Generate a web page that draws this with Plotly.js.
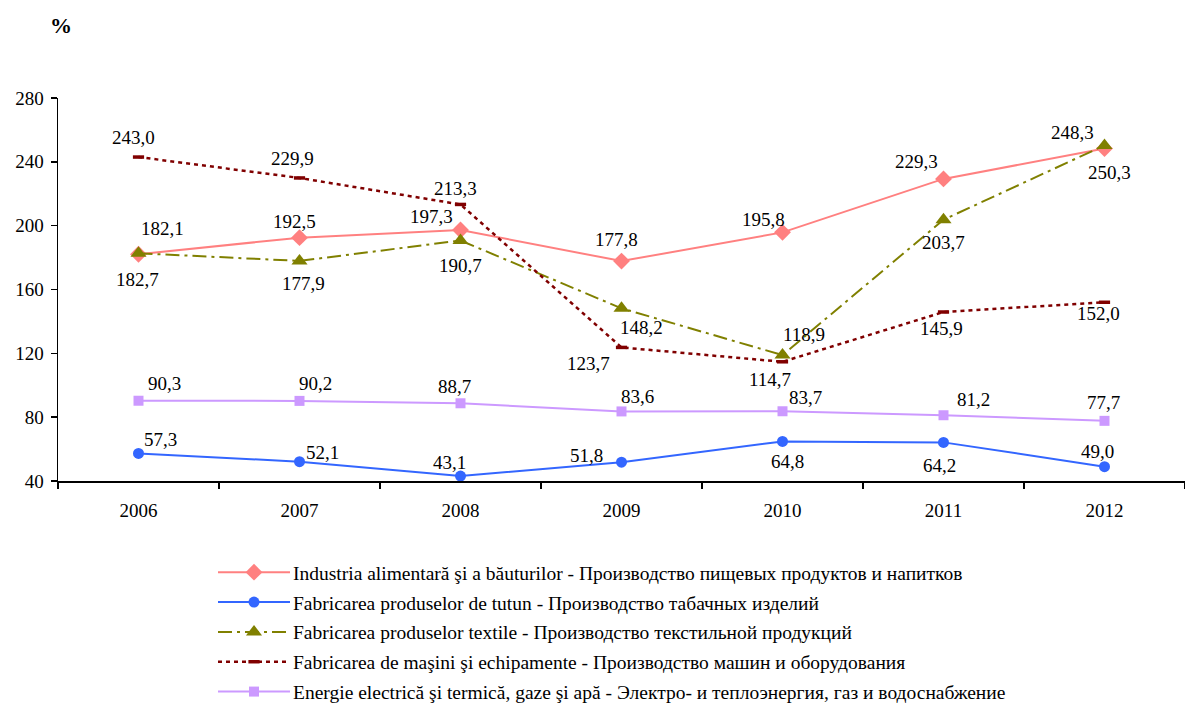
<!DOCTYPE html>
<html>
<head>
<meta charset="utf-8">
<script src="https://cdn.plot.ly/plotly-3.0.1.min.js"></script>
<style>html,body{margin:0;padding:0;background:#fff;}#chart{width:1185px;height:707px;}</style>
</head>
<body>
<div id="chart"></div>
<script>
// ---- data ----
const years = ['2006', '2007', '2008', '2009', '2010', '2011', '2012'];

const foodName = 'Industria alimentară şi a băuturilor - Производство пищевых продуктов и напитков';
const foodVals = [182.1, 192.5, 197.3, 177.8, 195.8, 229.3, 248.3];

const tobaccoName = 'Fabricarea produselor de tutun - Производство табачных изделий';
const tobaccoVals = [57.3, 52.1, 43.1, 51.8, 64.8, 64.2, 49.0];

const textileName = 'Fabricarea produselor textile - Производство текстильной продукций';
const textileVals = [182.7, 177.9, 190.7, 148.2, 118.9, 203.7, 250.3];

const machineName = 'Fabricarea de maşini şi echipamente - Производство машин и оборудования';
const machineVals = [243.0, 229.9, 213.3, 123.7, 114.7, 145.9, 152.0];

const energyName = 'Energie electrică şi termică, gaze şi apă - Электро- и теплоэнергия, газ и водоснабжение';
const energyVals = [90.3, 90.2, 88.7, 83.6, 83.7, 81.2, 77.7];

const yTicks = [40, 80, 120, 160, 200, 240, 280];

// ---- label placement (pixel shifts from each point: [dx, dy], dy downward) ----
const foodShift    = [[24,-26],[-5,-16],[-29,-13],[-5,-22],[-19,-13],[-27,-17],[-32,-16]];
const tobaccoShift = [[22,-14],[23,-9],[-11,-14],[-35,-7],[5,20],[-4,23],[-7,-15]];
const textileShift = [[-1,26],[4,23],[0,25],[20,19],[21,-21],[0,23],[5,27]];
const machineShift = [[-5,-20],[-7,-19],[-5,-16],[-33,16],[-13,18],[-2,16],[-6,11]];
const energyShift  = [[26,-17],[16,-17],[-6,-17],[16,-15],[23,-14],[30,-16],[-1,-18]];

const FONT = 'Liberation Serif';
const fmt = v => v.toFixed(1).replace('.', ',');

function series(name, vals, color, symbol, msize, dash, lw, group, extraMarker) {
  const marker = Object.assign({symbol: symbol, size: msize, color: color, line: {width: 0, color: color}}, extraMarker || {});
  return {
    type: 'scatter', mode: 'lines+markers', name: name, x: years, y: vals,
    line: {color: color, width: lw, dash: dash},
    marker: marker, legendgroup: group, cliponaxis: false,
    hoverinfo: 'x+y'
  };
}

const traces = [
  series(foodName, foodVals, '#FF8080', 'diamond', 13, 'solid', 2, 'g1'),
  series(tobaccoName, tobaccoVals, '#3366FF', 'circle', 11, 'solid', 2, 'g2'),
  series(textileName, textileVals, '#808000', 'triangle-up', 14, '14px,5px,3px,5px', 2, 'g3'),
  series(machineName, machineVals, '#800000', 'line-ew', 8, '4px,4px', 2.5, 'g4', {line: {width: 3.5, color: '#800000'}}),
  series(energyName, energyVals, '#CC99FF', 'square', 10, 'solid', 2, 'g5')
];

// annotation x uses the category index of each year
function labels(vals, shifts) {
  return vals.map((v, i) => ({
    x: years.indexOf(years[i]), y: v, xref: 'x', yref: 'y', text: fmt(v), showarrow: false,
    xshift: shifts[i][0], yshift: -shifts[i][1],
    font: {family: FONT, size: 19, color: '#000'}
  }));
}

const annotations = [].concat(
  labels(foodVals, foodShift),
  labels(tobaccoVals, tobaccoShift),
  labels(textileVals, textileShift),
  labels(machineVals, machineShift),
  labels(energyVals, energyShift)
);

const layout = {
  width: 1185, height: 707,
  margin: {l: 58, r: 0, t: 98, b: 226, autoexpand: false},
  paper_bgcolor: '#fff', plot_bgcolor: '#fff',
  font: {family: FONT, size: 19, color: '#000'},
  title: {text: '<b>%</b>', x: 61 / 1185, xanchor: 'center', xref: 'container',
          y: 1 - 25 / 707, yanchor: 'middle', font: {family: FONT, size: 22, color: '#000'}},
  showlegend: true,
  legend: {
    xref: 'container', yref: 'container',
    x: 213 / 1185, xanchor: 'left', y: 1 - 553 / 707, yanchor: 'top',
    orientation: 'v', traceorder: 'grouped', tracegroupgap: 1.5,
    itemwidth: 70, font: {family: FONT, size: 19.5, color: '#000'},
    bgcolor: 'rgba(0,0,0,0)', borderwidth: 0, itemclick: false, itemdoubleclick: false
  },
  xaxis: {
    type: 'category', categoryorder: 'array', categoryarray: years,
    range: [-0.5, 6.5], showgrid: false, zeroline: false,
    showline: true, linecolor: '#000', linewidth: 1.5,
    ticks: 'outside', tickson: 'boundaries', ticklen: 6, tickwidth: 1.5, tickcolor: '#000',
    ticklabelstandoff: 12,
    tickfont: {family: FONT, size: 19, color: '#000'}, fixedrange: true
  },
  yaxis: {
    range: [40, 280], tickvals: yTicks, ticktext: yTicks.map(String),
    showgrid: false, zeroline: false,
    showline: true, linecolor: '#000', linewidth: 1.5,
    ticks: 'outside', ticklen: 6, tickwidth: 1.5, tickcolor: '#000',
    ticklabelstandoff: 3,
    tickfont: {family: FONT, size: 19, color: '#000'}, fixedrange: true
  },
  annotations: annotations
};

Plotly.newPlot('chart', traces, layout, {displayModeBar: false, staticPlot: true}).then(gd => {
  // lengthen legend line samples and centre their markers, like the original legend
  gd.querySelectorAll('.legend .traces').forEach(t => {
    t.querySelectorAll('.legendlines path').forEach(p => p.setAttribute('d', 'M5,0h72'));
    t.querySelectorAll('.legendpoints path').forEach(p => p.setAttribute('transform', 'translate(41,0)'));
  });
});
</script>
</body>
</html>
